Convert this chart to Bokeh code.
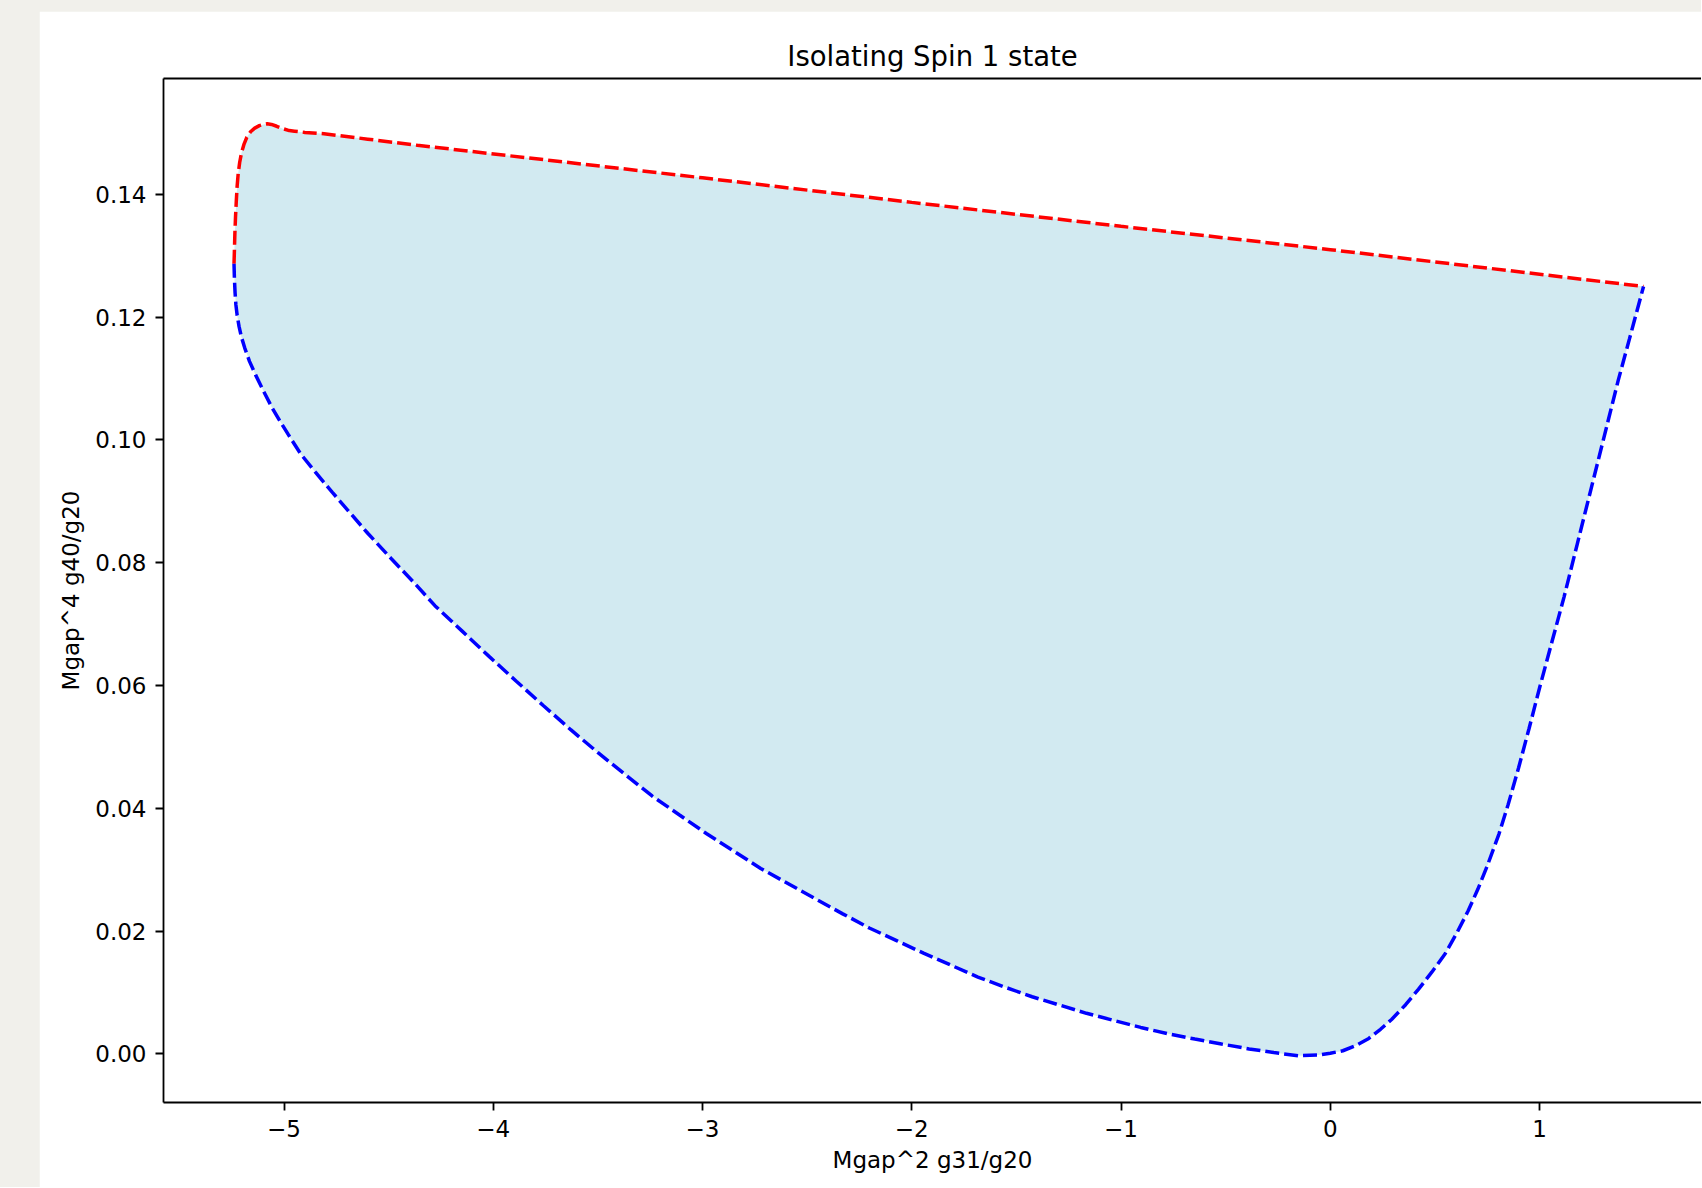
from bokeh.plotting import figure
from bokeh.models import Range1d, FixedTicker, LinearAxis
from bokeh.layouts import column
from bokeh.embed import file_html
from bokeh.resources import INLINE

# ---- data ----
title_text = "Isolating Spin 1 state"
x_label = "Mgap^2 g31/g20"
y_label = "Mgap^4 g40/g20"

x_ticks = [-5, -4, -3, -2, -1, 0, 1]
x_tick_labels = ["\u22125", "\u22124", "\u22123", "\u22122", "\u22121", "0", "1"]
y_ticks = [0.0, 0.02, 0.04, 0.06, 0.08, 0.10, 0.12, 0.14]
y_tick_labels = ["0.00", "0.02", "0.04", "0.06", "0.08", "0.10", "0.12", "0.14"]

# upper boundary (red dashed), from left junction to right corner
upper_x = [-5.239, -5.237, -5.235, -5.232, -5.228, -5.224, -5.219, -5.212, -5.203, -5.192,
           -5.178, -5.160, -5.140, -5.118, -5.098, -5.080, -5.060, -5.035, -5.005,
           -4.975, -4.950, -4.900, -4.809, -4.600, -4.363, -3.726, -3.0, -2.0, -1.0,
           0.0, 0.75, 1.497]
upper_y = [0.1287, 0.1310, 0.1335, 0.1362, 0.1390, 0.1414, 0.1434, 0.1452, 0.1468, 0.1481,
           0.1493, 0.1502, 0.1508, 0.1512, 0.1514, 0.1515, 0.1514, 0.1511, 0.1507,
           0.1504, 0.1503, 0.1501, 0.14988, 0.1490, 0.1480, 0.14553, 0.1427, 0.1387, 0.1348,
           0.1310, 0.1280, 0.1250]

# lower boundary (blue dashed), from left junction to right corner
lower_x = [-5.239, -5.237, -5.234, -5.230, -5.224, -5.215, -5.203, -5.188, -5.165, -5.136,
           -5.100, -5.058, -5.020, -4.980, -4.920, -4.849, -4.770, -4.694, -4.600, -4.486,
           -4.380, -4.279, -4.150, -4.019, -3.890, -3.760, -3.630, -3.501, -3.370, -3.241,
           -3.110, -2.982, -2.850, -2.722, -2.590, -2.463, -2.330, -2.203, -2.070, -1.944,
           -1.810, -1.684, -1.550, -1.425, -1.290, -1.165, -1.030, -0.906, -0.780, -0.647,
           -0.520, -0.388, -0.270, -0.154, -0.060, 0.0, 0.060, 0.120, 0.184, 0.240, 0.293,
           0.360, 0.421, 0.485, 0.549, 0.605, 0.659, 0.705, 0.750, 0.806, 0.850, 0.900,
           0.950, 1.000, 1.060, 1.117, 1.180, 1.246, 1.310, 1.376, 1.430, 1.497]
lower_y = [0.1287, 0.1262, 0.1240, 0.1220, 0.1203, 0.1185, 0.1167, 0.1150, 0.1128, 0.1106,
           0.1081, 0.1053, 0.1031, 0.1009, 0.0977, 0.0947, 0.0915, 0.0885, 0.0848, 0.0806,
           0.0768, 0.0730, 0.0689, 0.0647, 0.0607, 0.0567, 0.0528, 0.0491, 0.0455, 0.0420,
           0.0389, 0.0359, 0.0330, 0.0302, 0.0277, 0.0253, 0.0228, 0.0205, 0.0184, 0.0164,
           0.0144, 0.0125, 0.0108, 0.0093, 0.0079, 0.0066, 0.0054, 0.0043, 0.0033, 0.0024,
           0.0016, 0.0008, 0.0002, -0.0003, -0.0002, 0.0001, 0.0005, 0.0013, 0.0025, 0.0040, 0.0056,
           0.0080, 0.0105, 0.0133, 0.0163, 0.0197, 0.0233, 0.0268, 0.0306, 0.0358, 0.0406, 0.0466,
           0.0530, 0.0596, 0.0672, 0.0744, 0.0830, 0.0920, 0.1007, 0.1097, 0.1165, 0.1250]

fill_x = upper_x + lower_x[::-1]
fill_y = upper_y + lower_y[::-1]

FONT = "DejaVu Sans"

p = figure(width=1662, height=1176, output_backend="svg", toolbar_location=None,
           x_range=Range1d(-5.576, 1.774), y_range=Range1d(-0.00793, 0.15888),
           min_border_left=124, min_border_right=0, min_border_top=67, min_border_bottom=85,
           background_fill_color="white", border_fill_color="white")
p.outline_line_color = None
p.grid.visible = False

p.title.text = title_text
p.title.align = "center"
p.title.text_font = FONT
p.title.text_font_size = "27.5px"
p.title.text_font_style = "normal"
p.title.text_color = "black"
p.title.offset = 12
p.title.standoff = 14

p.patch(fill_x, fill_y, fill_color="lightblue", fill_alpha=0.55, line_color=None)
p.line(upper_x, upper_y, line_color="red", line_width=3.5, line_dash="14 5")
p.line(lower_x, lower_y, line_color="blue", line_width=3.5, line_dash="14 5")

for ax, ticks, labels in ((p.xaxis[0], x_ticks, x_tick_labels), (p.yaxis[0], y_ticks, y_tick_labels)):
    ax.ticker = FixedTicker(ticks=ticks)
    ax.major_label_overrides = {t: l for t, l in zip(ticks, labels)}
    ax.minor_tick_line_color = None
    ax.major_tick_in = 0
    ax.major_tick_out = 8
    ax.major_tick_line_width = 1.8
    ax.major_tick_line_color = "black"
    ax.axis_line_width = 1.8
    ax.axis_line_color = "black"
    ax.major_label_text_font = FONT
    ax.major_label_text_font_size = "23px"
    ax.major_label_text_color = "black"
    ax.major_label_standoff = 9
    ax.axis_label_text_font = FONT
    ax.axis_label_text_font_size = "23px"
    ax.axis_label_text_font_style = "normal"
    ax.axis_label_text_color = "black"

p.xaxis[0].axis_label = x_label
p.xaxis[0].axis_label_standoff = 7
p.yaxis[0].axis_label = y_label
p.yaxis[0].axis_label_standoff = 8

top = LinearAxis(ticker=FixedTicker(ticks=[]), major_label_text_font_size="0px",
                 major_tick_line_color=None, minor_tick_line_color=None,
                 axis_line_width=1.8, axis_line_color="black")
p.add_layout(top, "above")

layout = column(p, styles={"background-color": "#f1f0eb", "padding-left": "39px", "padding-top": "11px"})

open("out.html", "w").write(file_html(layout, INLINE))
